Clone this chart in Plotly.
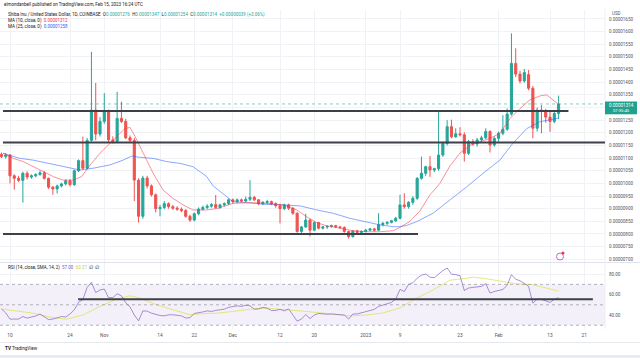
import plotly.graph_objects as go
import pandas as pd

W, H = 640, 358
SCALE = 1e-8  # prices are stored in units of 0.00000001 USD

# ---------------- data ----------------
dates = pd.date_range("2022-10-08", "2023-02-15", freq="D")

opens = [1115, 1106,
         1112, 1030, 1020, 1012, 1040, 1025, 1030, 1035, 1042, 1020,
         985, 978, 990, 998, 1010, 995, 1050, 1090, 1060, 1170,
         1290, 1195, 1245, 1283, 1172, 1166, 1257, 1245, 1180, 1170,
         1013, 870, 1021, 990, 955, 900, 905, 920, 908, 902,
         898, 893, 870, 855, 880, 898, 905, 910, 916, 905,
         915, 920, 935, 928, 935, 930, 937, 945, 935, 920,
         925, 928, 920, 912, 900, 915, 902, 882, 810, 828,
         855, 815, 845, 823, 828, 830, 833, 828, 826, 810,
         790, 812, 806, 810, 815, 820, 815, 837, 842, 846,
         852, 862, 915, 908, 925, 941, 1020, 1040, 1066, 1053,
         1058, 1112, 1158, 1224, 1184, 1196, 1192, 1119, 1165, 1156,
         1172, 1180, 1205, 1152, 1178, 1198, 1214, 1274, 1474, 1432,
         1405, 1430, 1376, 1218, 1290, 1286, 1262, 1245, 1276]
highs = [1122, 1120,
         1116, 1036, 1030, 1046, 1048, 1036, 1040, 1050, 1048, 1023,
         990, 995, 1003, 1016, 1016, 1055, 1095, 1185, 1180, 1520,
         1397, 1262, 1357, 1292, 1186, 1362, 1323, 1255, 1190, 1180,
         1020, 1030, 1030, 996, 960, 915, 930, 925, 915, 910,
         905, 898, 876, 885, 905, 912, 918, 922, 954, 920,
         925, 940, 940, 940, 940, 948, 1013, 950, 938, 930,
         935, 932, 925, 920, 920, 920, 906, 886, 832, 880,
         860, 850, 848, 832, 835, 837, 836, 832, 830, 813,
         815, 817, 814, 820, 824, 825, 882, 848, 850, 856,
         868, 955, 961, 930, 950, 1025, 1106, 1070, 1108, 1062,
         1290, 1165, 1250, 1252, 1218, 1222, 1202, 1172, 1175, 1180,
         1188, 1218, 1210, 1185, 1205, 1270, 1296, 1593, 1534, 1445,
         1452, 1448, 1385, 1300, 1310, 1295, 1284, 1285, 1347]
lows = [1100, 1098,
        1000, 975, 1005, 924, 1015, 1018, 1024, 1030, 1015, 978,
        955, 960, 984, 992, 988, 990, 1045, 1055, 1055, 1165,
        1170, 1185, 1235, 1160, 1158, 1160, 1238, 1175, 1160, 930,
        845, 860, 980, 948, 885, 870, 898, 900, 895, 892,
        886, 864, 848, 850, 874, 893, 898, 904, 900, 900,
        909, 914, 920, 922, 925, 926, 930, 930, 914, 914,
        918, 914, 904, 842, 895, 895, 876, 805, 804, 824,
        790, 811, 818, 818, 820, 825, 824, 820, 805, 782,
        785, 800, 802, 806, 812, 810, 812, 830, 835, 842,
        848, 858, 900, 900, 915, 935, 1015, 1030, 1026, 1045,
        1050, 1105, 1150, 1178, 1180, 1186, 1086, 1112, 1150, 1145,
        1165, 1175, 1122, 1145, 1165, 1190, 1208, 1268, 1420, 1395,
        1398, 1368, 1178, 1205, 1198, 1240, 1204, 1238, 1254]
closes = [1106, 1112,
          1030, 1020, 1012, 1040, 1025, 1030, 1035, 1042, 1020, 985,
          978, 990, 998, 1010, 995, 1050, 1090, 1060, 1170, 1290,
          1195, 1245, 1283, 1172, 1166, 1257, 1245, 1180, 1170, 1013,
          870, 1021, 990, 955, 900, 905, 920, 908, 902, 898,
          893, 870, 855, 880, 898, 905, 910, 916, 905, 915,
          920, 935, 928, 935, 930, 937, 945, 935, 920, 925,
          928, 920, 912, 900, 915, 902, 882, 810, 828, 855,
          815, 845, 823, 828, 830, 833, 828, 826, 810, 790,
          812, 806, 810, 815, 820, 815, 837, 842, 846, 852,
          862, 915, 908, 925, 941, 1020, 1040, 1066, 1053, 1058,
          1112, 1158, 1224, 1184, 1196, 1192, 1119, 1165, 1156, 1172,
          1180, 1205, 1152, 1178, 1198, 1214, 1274, 1474, 1432, 1405,
          1438, 1376, 1218, 1290, 1286, 1262, 1245, 1276, 1314]

# Moving averages (day offset from 2022-10-10, value)
ma10_day = [-1.6, 0.8, 3.1, 5.4, 7.8, 10.1, 12.4, 14.8, 16.7, 18.7, 21, 23.3, 24.9, 26.8, 28, 29.2,
            31.1, 33.4, 35.7, 38, 40.4, 42.7, 45.9, 48.5, 52, 56, 59.9, 63.7, 66.9, 69.2, 71.6,
            73.9, 77, 80, 83.2, 86.3, 89.4, 91, 93.3, 95.6, 98, 100.3, 102.7, 105, 107.3, 109.7,
            112, 114.3, 116.7, 119, 121.3, 123.7, 125.2, 126.7, 128]
ma10_val = [1119, 1099, 1086, 1066, 1046, 1027, 1013, 1013, 1027, 1073, 1119, 1158, 1185, 1217, 1221, 1185,
            1119, 1040, 974, 941, 915, 895, 895, 901, 921, 924, 921, 915, 895, 868, 845,
            832, 823, 813, 809, 809, 813, 826, 850, 890, 955, 1000, 1070, 1120, 1150, 1165,
            1178, 1198, 1257, 1296, 1330, 1346, 1350, 1330, 1312]
ma25_day = [-1.6, 2.3, 5.4, 9.3, 13.2, 16.3, 19.4, 23.3, 26.4, 28.4, 30.3, 33.4, 36.6, 39.7, 42.7,
            45.9, 47.4, 49, 50.6, 52, 56, 59.9, 63.7, 67.7, 71.6, 75.4, 79.3, 83.2, 86.3, 89.4,
            91, 92.6, 94.9, 98.7, 102.7, 106.6, 110.4, 114.3, 117.3, 120.6, 123.7, 126.7, 128]
ma25_val = [1119, 1099, 1092, 1079, 1066, 1053, 1060, 1073, 1092, 1108, 1103, 1099, 1086, 1079, 1066,
            1027, 990, 967, 947, 928, 921, 917, 915, 911, 895, 882, 862, 849, 836, 829,
            829, 834, 849, 882, 934, 987, 1040, 1092, 1158, 1217, 1244, 1253, 1258]

# RSI (daily, same dates as candles)
rsi_vals = [46, 42,
            36, 36, 36, 38.5, 37, 38, 39, 41, 38, 35.5,
            36, 37.5, 38.5, 38, 41, 45, 52.5, 55, 67, 72,
            62, 64.5, 65.4, 57, 57, 60.8, 58.8, 52, 48, 40,
            34.3, 44, 43.8, 41.8, 40.5, 39.5, 39.2, 40.2, 40.2, 40,
            39.2, 37, 37.5, 41.5, 42.6, 43, 44, 43.5, 44.5, 45,
            45.7, 47.5, 48, 49, 48.4, 49.5, 49, 45.7, 46, 47.5,
            46.7, 44.4, 44.5, 45.5, 44, 46, 40, 34, 36, 40.5,
            36.5, 40, 41.5, 41, 40.8, 41, 40.8, 40.8, 40, 36,
            41, 41, 42, 43, 44.4, 45.5, 48.4, 50, 51, 52.3,
            55.6, 65, 63, 70, 71.5, 76, 79, 80, 77, 76.5,
            80, 83.5, 86, 80, 79.5, 78.5, 64, 66.4, 67, 67.4,
            68, 70.7, 61.5, 63, 64, 65, 69, 79.5, 75, 73.5,
            71, 68, 51.6, 55.6, 55.3, 53.5, 52.3, 55.3, 57]
# RSI-based SMA (day offset, value)
rsima_day = [-2, -1.6, 5.4, 9.3, 13.2, 17.1, 21, 24.9, 28, 30.3, 34.2, 38.1, 42, 44.3, 48.2, 52.1,
             56, 59.9, 63.8, 67.7, 71.5, 75.4, 79.3, 83.2, 87, 91, 94.9, 98.8, 102.6, 106.5,
             108, 110.4, 114.3, 118, 122, 126, 128]
rsima_val = [46, 45.7, 41.8, 37.9, 35.9, 40.2, 48.4, 55.6, 58.8, 56.5, 50, 45.1, 40.2, 41.2, 41.8, 43.5,
             45.7, 46.7, 45.7, 44, 42.5, 41, 39, 40, 42, 47, 56.5, 64.8, 74, 76,
             77, 76, 73, 70.6, 69.7, 65.4, 63.37]

# Axis ticks
date_tick_vals = ["2022-10-10", "2022-10-24", "2022-11-01", "2022-11-14", "2022-11-22", "2022-12-01",
                  "2022-12-12", "2022-12-20", "2023-01-01", "2023-01-09", "2023-01-23", "2023-02-01",
                  "2023-02-13", "2023-02-21"]
date_tick_text = ["10", "24", "Nov", "14", "22", "Dec", "12", "20", "2023", "9", "23", "Feb", "13", "21"]
price_tick_vals = [700, 750, 800, 850, 900, 950, 1000, 1050, 1100, 1150, 1200, 1250, 1300, 1350,
                   1400, 1450, 1500, 1550, 1600, 1650]
rsi_tick_vals = [40, 60, 80]

# Drawn horizontal levels (price) and RSI level
level_top = 1286
level_mid = 1162
level_low = 800
rsi_level = 55.3
last_price = 1314

# ---------------- helpers ----------------
BASE = pd.Timestamp("2022-10-10")


def day(d):
    return BASE + pd.Timedelta(days=d)


def pxx(x):
    return x / W


def pyy(y):
    return 1 - y / H


UP = "#26a69a"
DN = "#ef5350"
GRID = "#f0f2f6"
TXT = "#131722"
AX = "#50535e"
FONT = "Roboto"
X_END = 605 / W

x_range = [day(-2.333), day(138.83)]

fig = go.Figure()

fig.add_trace(go.Candlestick(
    x=dates,
    open=[v * SCALE for v in opens], high=[v * SCALE for v in highs],
    low=[v * SCALE for v in lows], close=[v * SCALE for v in closes],
    increasing=dict(line=dict(color=UP, width=1), fillcolor=UP),
    decreasing=dict(line=dict(color=DN, width=1), fillcolor=DN),
    whiskerwidth=0, showlegend=False, hoverinfo="skip", xaxis="x", yaxis="y"))

fig.add_trace(go.Scatter(x=[day(d) for d in ma25_day], y=[v * SCALE for v in ma25_val],
                         mode="lines", line=dict(color="rgba(41,98,255,0.55)", width=1),
                         showlegend=False, hoverinfo="skip", xaxis="x", yaxis="y"))
fig.add_trace(go.Scatter(x=[day(d) for d in ma10_day], y=[v * SCALE for v in ma10_val],
                         mode="lines", line=dict(color="rgba(242,54,69,0.55)", width=1),
                         showlegend=False, hoverinfo="skip", xaxis="x", yaxis="y"))

fig.add_trace(go.Scatter(x=[day(d) for d in rsima_day], y=rsima_val, mode="lines",
                         line=dict(color="rgba(222,226,80,0.75)", width=1),
                         showlegend=False, hoverinfo="skip", xaxis="x2", yaxis="y2"))
fig.add_trace(go.Scatter(x=dates, y=rsi_vals, mode="lines",
                         line=dict(color="rgba(126,87,194,0.65)", width=1),
                         showlegend=False, hoverinfo="skip", xaxis="x2", yaxis="y2"))

price_top_px, price_bot_px = 10, 262
rsi_top_px, rsi_bot_px = 263, 329

# the 0.00001300 label sits under the last-price tag, so it is left blank
price_tick_text = ["" if v == 1300 else f"{v * SCALE:.8f}" for v in price_tick_vals]

fig.update_layout(
    width=W, height=H, margin=dict(l=0, r=0, t=0, b=0),
    paper_bgcolor="white", plot_bgcolor="white",
    font=dict(family=FONT, size=5, color=AX),
    xaxis=dict(domain=[0, X_END], range=x_range, anchor="y", type="date",
               tickvals=date_tick_vals, showticklabels=False, showgrid=True, gridcolor=GRID,
               gridwidth=1, zeroline=False, showline=False, ticks="", fixedrange=True,
               rangeslider=dict(visible=False)),
    yaxis=dict(domain=[pyy(price_bot_px), pyy(price_top_px)], range=[689.3 * SCALE, 1685.4 * SCALE],
               side="right", tickvals=[v * SCALE for v in price_tick_vals], ticktext=price_tick_text,
               showgrid=True, gridcolor=GRID, zeroline=False, showline=False, ticks="",
               ticklabelstandoff=3,
               tickfont=dict(size=4.5, color=AX, family=FONT), automargin=False, fixedrange=True),
    xaxis2=dict(domain=[0, X_END], range=x_range, anchor="y2", type="date", matches="x",
                tickvals=date_tick_vals, ticktext=date_tick_text, showgrid=True, gridcolor=GRID,
                zeroline=False, showline=False, ticks="", ticklabelstandoff=2,
                tickfont=dict(size=4.8, color=AX, family=FONT),
                automargin=False, fixedrange=True),
    yaxis2=dict(domain=[pyy(rsi_bot_px), pyy(rsi_top_px)], range=[26.3, 90.9], side="right",
                tickvals=rsi_tick_vals, tickformat=".2f", showgrid=True, gridcolor=GRID,
                zeroline=False, showline=False, ticks="", ticklabelstandoff=3,
                tickfont=dict(size=4.5, color=AX, family=FONT),
                automargin=False, fixedrange=True),
)

shapes = []
# RSI band and dashed levels
shapes.append(dict(type="rect", xref="paper", yref="y2", x0=0, x1=X_END, y0=30, y1=70,
                   fillcolor="rgba(126,87,194,0.09)", line=dict(width=0), layer="below"))
for lv in (70, 50, 30):
    shapes.append(dict(type="line", xref="paper", yref="y2", x0=0, x1=X_END, y0=lv, y1=lv,
                       line=dict(color="rgba(120,123,134,0.55)", width=1, dash="dot")))
# pane separators / borders
shapes.append(dict(type="line", xref="paper", yref="paper", x0=0, x1=1, y0=pyy(262.5), y1=pyy(262.5),
                   line=dict(color="#e0e3eb", width=1)))
shapes.append(dict(type="line", xref="paper", yref="paper", x0=X_END, x1=X_END, y0=pyy(329), y1=pyy(9),
                   line=dict(color="#eceef3", width=1)))
shapes.append(dict(type="line", xref="paper", yref="paper", x0=0, x1=1, y0=pyy(342.5), y1=pyy(342.5),
                   line=dict(color="#e6e8ee", width=1)))
shapes.append(dict(type="rect", xref="paper", yref="paper", x0=0, x1=1, y0=0, y1=pyy(355),
                   fillcolor="#e8ebf1", line=dict(width=0), layer="below"))
# last price dotted line
shapes.append(dict(type="line", xref="paper", yref="y", x0=0, x1=X_END,
                   y0=last_price * SCALE, y1=last_price * SCALE,
                   line=dict(color="rgba(38,166,154,0.55)", width=1, dash="dot")))
# drawn levels
shapes.append(dict(type="line", xref="x", yref="y", x0=day(-1.63), x1=day(130.3),
                   y0=level_top * SCALE, y1=level_top * SCALE, line=dict(color="#3d404a", width=2)))
shapes.append(dict(type="line", xref="x", yref="y", x0=day(-1.63), x1=day(138.83),
                   y0=level_mid * SCALE, y1=level_mid * SCALE, line=dict(color="#3d404a", width=2)))
shapes.append(dict(type="line", xref="x", yref="y", x0=day(-1.63), x1=day(95.2),
                   y0=level_low * SCALE, y1=level_low * SCALE, line=dict(color="#3d404a", width=2)))
shapes.append(dict(type="line", xref="x2", yref="y2", x0=day(15.9), x1=day(136.0),
                   y0=rsi_level, y1=rsi_level, line=dict(color="#3d404a", width=2)))
# price tag
shapes.append(dict(type="rect", xref="paper", yref="paper", x0=pxx(605), x1=pxx(637),
                   y0=pyy(114.3), y1=pyy(101.5), fillcolor="#22a08f", line=dict(width=0), layer="above"))
# purple icon
shapes.append(dict(type="circle", xref="paper", yref="paper", x0=pxx(556.5), x1=pxx(563.5),
                   y0=pyy(260), y1=pyy(253), line=dict(color="#b36bd9", width=1),
                   fillcolor="rgba(255,255,255,1)"))
shapes.append(dict(type="circle", xref="paper", yref="paper", x0=pxx(561.5), x1=pxx(564.5),
                   y0=pyy(254.5), y1=pyy(251.5), line=dict(width=0), fillcolor="#f23645"))
fig.update_layout(shapes=shapes)


def ann(x, y, text, size=4.6, color=TXT, anchor="left"):
    return dict(xref="paper", yref="paper", x=pxx(x), y=pyy(y), text=text, showarrow=False,
                xanchor=anchor, yanchor="middle", font=dict(family=FONT, size=size, color=color))


def span(t, c):
    return f"<span style='color:{c}'>{t}</span>"


annotations = [
    ann(1.5, 4.2, "elmondanbell published on TradingView.com, Feb 15, 2023 16:24 UTC", 4.5),
    ann(5.5, 14, "Shiba Inu / United States Dollar, 1D, COINBASE  "
        + "O" + span("0.00001276", UP) + "  H" + span("0.00001347", UP)
        + "  L" + span("0.00001254", UP) + "  C" + span("0.00001314", UP)
        + "  " + span("+0.00000039 (+3.06%)", UP), 4.5),
    ann(5.5, 20.3, "MA (10, close, 0)  " + span("0.00001312", "#f23645"), 4.5),
    ann(5.5, 26.7, "MA (25, close, 0)  " + span("0.00001258", "#2962ff"), 4.5),
    ann(5.5, 267.3, "RSI (14, close, SMA, 14, 2)  " + span("57.00", "#7e57c2") + "  "
        + span("63.37", "#c9cc3f") + "  ∅  ∅", 4.5),
    ann(610, 13.2, "USD", 4.5, AX),
    ann(621, 105.2, "0.00001314", 4.6, "white", "center"),
    ann(621, 110.8, "07:35:45", 4.2, "white", "center"),
    ann(3, 348.5, "<b>TV</b> TradingView", 4.6, TXT),
]
fig.update_layout(annotations=annotations)

fig.write_html("out.html", config={"displayModeBar": False, "staticPlot": True},
               post_script="document.body.style.margin='0';document.body.style.padding='0';"
                           "document.documentElement.style.overflow='hidden';")
